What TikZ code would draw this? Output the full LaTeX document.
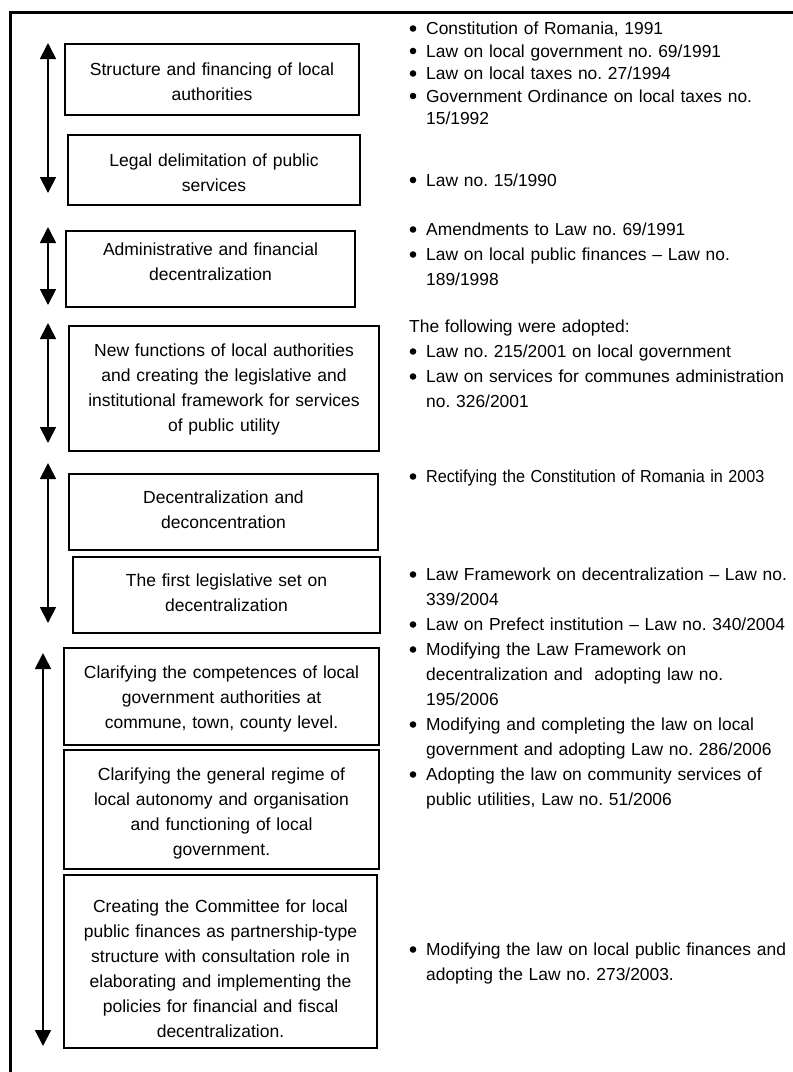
\documentclass[tikz,border=0pt]{standalone}
\usepackage{fontspec}
\setmainfont{Liberation Sans}
\usepackage{graphicx}
\usetikzlibrary{arrows.meta}

\tikzset{
  frameline/.style={line width=2.4pt},
  stage/.style={draw, line width=2pt, anchor=north west, inner sep=0pt,
    align=center, font=\fontsize{17.5pt}{25pt}\selectfont},
  law/.style={anchor=base west, inner sep=0pt, text width=380pt, align=left,
    font=\fontsize{17.4pt}{25pt}\selectfont},
  lawtight/.style={law, font=\fontsize{17.4pt}{22.5pt}\selectfont},
  bulletdot/.style={circle, fill=black, inner sep=0pt, minimum size=6.6pt},
  period/.style={line width=1.8pt,
    {Triangle[width=16pt,length=16pt]}-{Triangle[width=16pt,length=16pt]}}
}

\begin{document}
\frenchspacing
\begin{tikzpicture}[x=1pt, y=-1pt]
\useasboundingbox (0,0) rectangle (793,1072);

% outer frame: left rule and top rule
\coordinate (fb) at (10.5,1075);
\coordinate (fc) at (10.5,12.5);
\coordinate (fr) at (796,12.5);
\draw[frameline] (fb) -- (fc) -- (fr);

% stages of the reform
\node[stage, text width=294pt, text height=31pt, text depth=40pt] (s1) at (64,43)
  {Structure and financing of local\\authorities};
\node[stage, text width=292pt, text height=31.5pt, text depth=38.5pt] (s2) at (67,134)
  {Legal delimitation of public\\services};
\node[stage, text width=289pt, text height=24.5pt, text depth=51.5pt] (s3) at (65,230)
  {Administrative and financial\\decentralization};
\node[stage, text width=310pt, text height=30.5pt, text depth=94.5pt] (s4) at (68,325)
  {New functions of local authorities\\and creating the legislative and\\institutional framework for services\\of public utility};
\node[stage, text width=309pt, text height=29pt, text depth=47pt] (s5) at (68,473)
  {Decentralization and\\deconcentration};
\node[stage, text width=307pt, text height=29.5pt, text depth=46.5pt] (s6) at (72,556)
  {The first legislative set on\\decentralization};
\node[stage, text width=315pt, text height=30pt, text depth=67pt] (s7) at (63,647)
  {Clarifying the competences of local\\government authorities at\\commune, town, county level.};
\node[stage, text width=315pt, text height=30pt, text depth=89pt] (s8) at (63,749)
  {Clarifying the general regime of\\local autonomy and organisation\\and functioning of local\\government.};
\node[stage, text width=313pt, text height=37pt, text depth=136pt] (s9) at (63,874)
  {Creating the Committee for local\\public finances as partnership-type\\structure with consultation role in\\elaborating and implementing the\\policies for financial and fiscal\\decentralization.};

% time spans
\coordinate (p1a) at (48,43);   \coordinate (p1b) at (48,193);
\coordinate (p2a) at (48,227);  \coordinate (p2b) at (48,305);
\coordinate (p3a) at (48,323);  \coordinate (p3b) at (48,443);
\coordinate (p4a) at (48,463);  \coordinate (p4b) at (48,623);
\coordinate (p5a) at (43,653);  \coordinate (p5b) at (43,1046);
\draw[period] (p1a) -- (p1b);
\draw[period] (p2a) -- (p2b);
\draw[period] (p3a) -- (p3b);
\draw[period] (p4a) -- (p4b);
\draw[period] (p5a) -- (p5b);

% legislation
\node[bulletdot] (da1) at (413,28.5) {};
\node[lawtight] (la1) at (426,34.5) {Constitution of Romania, 1991};
\node[bulletdot] (da2) at (413,51) {};
\node[lawtight] (la2) at (426,57) {Law on local government no. 69/1991};
\node[bulletdot] (da3) at (413,73.5) {};
\node[lawtight] (la3) at (426,79.5) {Law on local taxes no. 27/1994};
\node[bulletdot] (da4) at (413,96) {};
\node[lawtight] (la4) at (426,102) {Government Ordinance on local taxes no.\\15/1992};

\node[bulletdot] (db1) at (413,180) {};
\node[law] (lb1) at (426,186) {Law no. 15/1990};

\node[bulletdot] (dc1) at (413,229.5) {};
\node[law] (lc1) at (426,235.5) {Amendments to Law no. 69/1991};
\node[bulletdot] (dc2) at (413,254.5) {};
\node[law] (lc2) at (426,260.5) {Law on local public finances – Law no.\\189/1998};

\node[law] (ld0) at (409,332.5) {The following were adopted:};
\node[bulletdot] (dd1) at (413,351.5) {};
\node[law] (ld1) at (426,357.5) {Law no. 215/2001 on local government};
\node[bulletdot] (dd2) at (413,376.5) {};
\node[law] (ld2) at (426,382.5) {Law on services for communes administration\\no. 326/2001};

\node[bulletdot] (de1) at (413,476.5) {};
\node[law] (le1) at (426,482.5) {\scalebox{0.93}[1]{Rectifying the Constitution of Romania in 2003}};

\node[bulletdot] (df1) at (413,574.5) {};
\node[law] (lf1) at (426,580.5) {Law Framework on decentralization – Law no.\\339/2004};
\node[bulletdot] (df2) at (413,624.5) {};
\node[law] (lf2) at (426,630.5) {Law on Prefect institution – Law no. 340/2004};
\node[bulletdot] (df3) at (413,649.5) {};
\node[law] (lf3) at (426,655.5) {Modifying the Law Framework on\\decentralization and~ adopting law no.\\195/2006};
\node[bulletdot] (df4) at (413,724.5) {};
\node[law] (lf4) at (426,730.5) {Modifying and completing the law on local\\government and adopting Law no. 286/2006};
\node[bulletdot] (df5) at (413,774.5) {};
\node[law] (lf5) at (426,780.5) {Adopting the law on community services of\\public utilities, Law no. 51/2006};

\node[bulletdot] (dg1) at (413,949.5) {};
\node[law] (lg1) at (426,955.5) {Modifying the law on local public finances and\\adopting the Law no. 273/2003.};
\end{tikzpicture}
\end{document}
